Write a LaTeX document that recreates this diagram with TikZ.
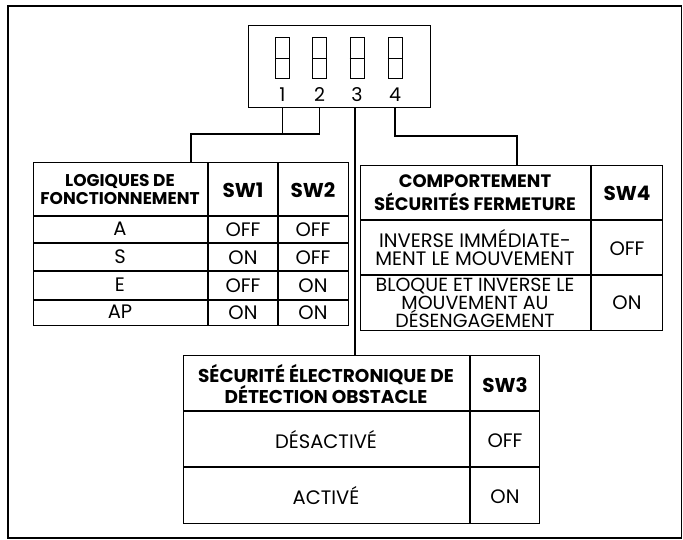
\documentclass[tikz,border=0pt]{standalone}
\usepackage{fontspec}
\setmainfont{Poppins}
\begin{document}
\begin{tikzpicture}[x=1pt,y=-1pt,line width=1.2pt,
  tbl/.style={draw,line width=1.2pt,anchor=north west,inner sep=0pt},
  hd/.style={font=\bfseries\fontsize{17}{18}\selectfont,align=center,inner sep=0pt},
  swh/.style={font=\bfseries\fontsize{20}{20}\selectfont,inner sep=0pt},
  tx/.style={font=\fontsize{19.5}{18}\selectfont,align=center,inner sep=0pt},
  swbox/.style={draw,line width=1pt,minimum width=14pt,minimum height=41pt,inner sep=0pt},
  num/.style={font=\fontsize{19}{19}\selectfont,inner sep=0pt}]
\useasboundingbox (0,0) rectangle (683,539);
% outer frame
\draw[line width=1.8pt] (8,6) rectangle (681.5,538);
% DIP switch block
\node[draw,line width=1.2pt,anchor=north west,minimum width=182pt,minimum height=82pt,inner sep=0pt] (dip) at (248,25) {};
\foreach \i/\x in {1/282.5,2/319.5,3/357,4/395}{
  \node[swbox,anchor=north] (s\i) at (\x,37) {};
  \draw[line width=1pt] (s\i.west) -- (s\i.east);
  \node[num] (n\i) at (\x,95) {\i};
}
% tables
\node[tbl,minimum width=315pt,minimum height=163pt] (tL) at (33,162) {};
\node[tbl,minimum width=302pt,minimum height=165pt] (tR) at (360,165) {};
\node[tbl,minimum width=356pt,minimum height=168pt] (tB) at (183,355) {};
% left grid
\draw (208,162) -- (208,325);
\draw (278,162) -- (278,325);
\draw (33,216) -- (348,216);
\draw (33,243) -- (348,243);
\draw (33,271) -- (348,271);
\draw (33,300) -- (348,300);
% right grid
\draw (591,165) -- (591,330);
\draw (360,220) -- (662,220);
\draw (360,275) -- (662,275);
% bottom grid
\draw (470,355) -- (470,523);
\draw (183,411) -- (539,411);
\draw (183,467) -- (539,467);
% connectors
\coordinate (j) at (191,134);
\coordinate (k) at (517,136);
\draw (s1 |- dip.south) -- (s1 |- j);
\draw (s2 |- dip.south) |- (j) -- (j |- tL.north);
\draw ([xshift=-2pt]s3 |- dip.south) -- ([xshift=-2pt]s3 |- tB.north);
\draw (s4 |- dip.south) |- (k) -- (k |- tR.north);
% left table text
\node[hd] (hL) at (120,190) {LOGIQUES DE\\FONCTIONNEMENT};
\node[swh] (h1) at (243,190) {SW1};
\node[swh] (h2) at (313,190) {SW2};
\node[tx] at (120,229) {A};
\node[tx] at (243,230) {OFF};
\node[tx] at (313,230) {OFF};
\node[tx] at (120,257) {S};
\node[tx] at (243,258) {ON};
\node[tx] at (313,258) {OFF};
\node[tx] at (120,285) {E};
\node[tx] at (243,286) {OFF};
\node[tx] at (313,286) {ON};
\node[tx] at (120,312) {AP};
\node[tx] at (243,313) {ON};
\node[tx] at (313,313) {ON};
% right table text
\node[hd,font=\bfseries\fontsize{18}{23}\selectfont] (hR) at (475,193) {COMPORTEMENT\\SÉCURITÉS FERMETURE};
\node[swh] (h4) at (627,193) {SW4};
\node[tx] at (475,248) {INVERSE IMMÉDIATE-\\MENT LE MOUVEMENT};
\node[tx] at (627,249) {OFF};
\node[tx,font=\fontsize{19}{17.5}\selectfont] at (475,303) {BLOQUE ET INVERSE LE\\MOUVEMENT AU\\DÉSENGAGEMENT};
\node[tx] at (627,303) {ON};
% bottom table text
\node[hd,font=\bfseries\fontsize{18.5}{21}\selectfont] (hB) at (326,384) {SÉCURITÉ ÉLECTRONIQUE DE\\DÉTECTION OBSTACLE};
\node[swh] (h3) at (505,385) {SW3};
\node[tx] at (326,440) {DÉSACTIVÉ};
\node[tx] at (505,441) {OFF};
\node[tx] at (326,496) {ACTIVÉ};
\node[tx] at (505,497) {ON};
\end{tikzpicture}
\end{document}
